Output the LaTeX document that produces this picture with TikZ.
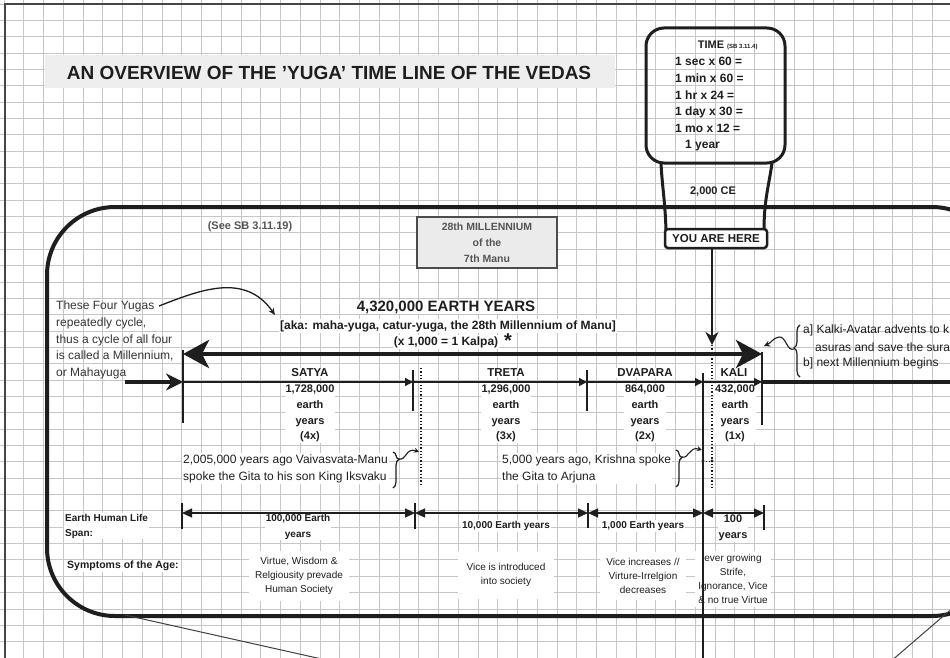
\documentclass[tikz,border=0pt]{standalone}
\usepackage{fontspec}
\setmainfont{Liberation Sans}
\usetikzlibrary{arrows.meta,decorations.pathreplacing}
\definecolor{ink}{HTML}{1E1E1E}
\definecolor{gridc}{HTML}{C6C6C6}
\definecolor{softink}{HTML}{555555}
\definecolor{boxfill}{HTML}{EBEBEB}
\definecolor{bandfill}{HTML}{EEEEEE}
\newcommand\fsz[2]{\fontsize{#1}{#2}\selectfont}
\begin{document}
\begin{tikzpicture}[x=1pt,y=-1pt,
  gridline/.style={gridc, line width=0.9pt},
  txt/.style={inner sep=1pt, text=ink},
  cell/.style={txt, fill=white, align=center},
  tickline/.style={ink, line width=1.8pt},
  segline/.style={ink, line width=1.3pt, -{Triangle[length=8pt,width=8pt]}},
  spanline/.style={ink, line width=1.2pt, {Triangle[length=10pt,width=9pt]}-{Triangle[length=10pt,width=9pt]}},
  bracepen/.style={ink, line width=1.2pt, decorate},
  squig/.style={ink, line width=1.1pt, -{Stealth[length=6pt,width=6pt]}}
]
\useasboundingbox (0,0) rectangle (950,658);
\clip (0,0) rectangle (950,658);
\fill[white] (0,0) rectangle (950,658);
% grid
\foreach \i in {0,...,48} \draw[gridline] ({4+19.75*\i},0) -- ({4+19.75*\i},658);
\foreach \j in {0,...,40} \draw[gridline] (0,{4+16.35*\j}) -- (950,{4+16.35*\j});
\draw[gray!55!black, line width=2pt] (5,700) -- (5,4) -- (960,4);

% title
\fill[bandfill] (45,55) rectangle (615,88);
\node[txt, font=\fsz{19}{23}\bfseries, anchor=base] (title) at (329,79.5) {AN OVERVIEW OF THE 'YUGA' TIME LINE OF THE VEDAS};

% big rounded frame and callout tails
\draw[ink, line width=4pt, rounded corners=68pt] (47,207) rectangle (1000,616);
\draw[ink!85, line width=1pt] (125,615) -- (335,662);
\draw[ink!85, line width=1pt] (890,662) -- (955,606);

% time box
\draw[ink, line width=3pt, rounded corners=18pt] (646,28) rectangle (785,163);
\draw[ink, line width=3pt] (661,163) .. controls (662,185) and (665,200) .. (666,230);
\draw[ink, line width=3pt] (772,163) .. controls (769,185) and (764,200) .. (764,230);
\node[txt, font=\fsz{11}{13}\bfseries] (timehd) at (711,45) {TIME};
\node[txt, font=\fsz{6}{7}\bfseries, anchor=west] (sbref) at (726,47) {(SB 3.11.4)};
\node[txt, anchor=west, align=left, font=\fsz{12}{16.6}\bfseries] (conv) at (674,104.5) {1 sec x 60 =\\1 min x 60 =\\1 hr x 24 =\\1 day x 30 =\\1 mo x 12 =\\\hspace*{10pt}1 year};
\node[txt, font=\fsz{11}{13}\bfseries] (ce) at (713,192) {2,000 CE};
\node[draw=ink, line width=2.5pt, rounded corners=3pt, fill=white, minimum width=102pt, minimum height=19pt, inner sep=0pt, text=ink, font=\fsz{11.5}{13}\bfseries] (yah) at (716,238.5) {YOU ARE HERE};

% header texts
\node[txt, text=softink, font=\fsz{11}{13}\bfseries] (seesb) at (250,227) {(See SB 3.11.19)};
\node[draw=gray!60!black, line width=1.6pt, fill=boxfill, minimum width=140pt, minimum height=51pt, align=center, text=softink, font=\fsz{10.5}{16}\bfseries] (mill) at (487,242.5) {28th MILLENNIUM\\of the\\7th Manu};
\node[cell, font=\fsz{15}{17}\bfseries] (total) at (446,307) {4,320,000 EARTH YEARS};
\node[cell, font=\fsz{12}{14}\bfseries] (aka) at (448,326) {[aka: maha-yuga, catur-yuga, the 28th Millennium of Manu]};
\node[cell, font=\fsz{12}{14}\bfseries] (kalpa) at (446,342) {(x 1,000 = 1 Kalpa)};
\node[txt, font=\fsz{20}{22}\bfseries] (star) at (508,341) {*};

% left note
\node[txt, anchor=west, align=left, text=ink!90, font=\fsz{12}{16.6}] (four) at (55,340) {These Four Yugas\\repeatedly cycle,\\thus a cycle of all four\\is called a Millennium,\\or Mahayuga};
\coordinate (yugaend) at (159,306);
\coordinate (yugatip) at (275,315);
\draw[ink, line width=1.3pt, -{Stealth[length=7pt,width=6pt]}] (yugaend) .. controls (200,290) and (245,272) .. (yugatip);

% right note (Kalki)
\node[txt, anchor=west, font=\fsz{12}{14}] (ka) at (802,330) {a] Kalki-Avatar advents to k};
\node[txt, anchor=west, font=\fsz{12}{14}] (kb) at (814,347) {asuras and save the sura};
\node[txt, anchor=west, font=\fsz{12}{14}] (kc) at (802,363) {b] next Millennium begins};
\draw[bracepen, decoration={brace, amplitude=6pt, aspect=0.56}] (800,377) -- (800,325);
\coordinate (kcusp) at (794,349);
\coordinate (ktip) at (764,346);
\draw[squig] (kcusp) .. controls (787,352) and (786,336) .. (779,337) .. controls (773,338) and (771,343) .. (ktip);

% yuga columns
\node[cell, font=\fsz{11.5}{13}\bfseries] (satya) at (310,373) {SATYA};
\node[cell, font=\fsz{11}{15.7}\bfseries] (satyav) at (310,413.5) {1,728,000\\earth\\years\\(4x)};
\node[cell, font=\fsz{11.5}{13}\bfseries] (treta) at (506,373) {TRETA};
\node[cell, font=\fsz{11}{15.7}\bfseries] (tretav) at (506,413.5) {1,296,000\\earth\\years\\(3x)};
\node[cell, font=\fsz{11.5}{13}\bfseries] (dvapara) at (645,373) {DVAPARA};
\node[cell, font=\fsz{11}{15.7}\bfseries] (dvaparav) at (645,413.5) {864,000\\earth\\years\\(2x)};
\node[cell, font=\fsz{11.5}{13}\bfseries] (kali) at (734,373) {KALI};
\node[cell, font=\fsz{11}{15.7}\bfseries] (kaliv) at (735,413.5) {432,000\\earth\\years\\(1x)};

% brace notes
\node[cell, anchor=west, align=left, font=\fsz{12}{17}] (manu) at (182,468.5) {2,005,000 years ago Vaivasvata-Manu\\spoke the Gita to his son King Iksvaku};
\draw[bracepen, decoration={brace, amplitude=6pt, aspect=0.2}] (393,452) -- (393,488);
\coordinate (b1) at (399,459);
\coordinate (b1t) at (419,452);
\draw[squig, -{Stealth[length=5pt,width=5pt]}] (b1) .. controls (406,461) and (406,447) .. (b1t);
\node[cell, anchor=west, align=left, font=\fsz{12}{17}] (krishna) at (501,468.5) {5,000 years ago, Krishna spoke\\the Gita to Arjuna};
\draw[bracepen, decoration={brace, amplitude=6pt, aspect=0.2}] (676,450) -- (676,487);
\coordinate (b2) at (682,457);
\coordinate (b2t) at (702,450);
\draw[squig, -{Stealth[length=5pt,width=5pt]}] (b2) .. controls (689,459) and (689,446) .. (b2t);

% life span and symptoms rows
\node[cell, anchor=west, align=left, font=\fsz{10}{15}\bfseries] (lifelab) at (64,526) {Earth Human Life\\Span:};
\node[cell, anchor=west, font=\fsz{10.5}{12}\bfseries] (symlab) at (66,566) {Symptoms of the Age:};
\node[cell, font=\fsz{10}{15.5}\bfseries] (ls1) at (298,527) {100,000 Earth\\years};
\node[cell, font=\fsz{10}{12}\bfseries] (ls2) at (506,526) {10,000 Earth years};
\node[cell, font=\fsz{10}{12}\bfseries] (ls3) at (643,526) {1,000 Earth years};
\node[cell, font=\fsz{11}{16}\bfseries] (ls4) at (733,528) {100\\years};
\node[cell, inner sep=6pt, font=\fsz{10}{14}] (sy1) at (299,576) {Virtue, Wisdom \&\\Relgiousity prevade\\Human Society};
\node[cell, inner xsep=9pt, inner ysep=12pt, font=\fsz{10}{14}] (sy2) at (506,575) {Vice is introduced\\into society};
\node[cell, inner sep=6pt, font=\fsz{10}{14}] (sy3) at (643,576) {Vice increases //\\Virture-Irrelgion\\decreases};
\node[cell, inner sep=3pt, font=\fsz{10}{14}] (sy4) at (733,579) {ever growing\\Strife,\\Ignorance, Vice\\\& no true Virtue};

% ---- timeline lines ----
\coordinate (mL) at (183,354);
\coordinate (mR) at (762,354);
\draw[ink, line width=4pt, {Stealth[length=26pt,width=28pt,inset=7pt]}-{Stealth[length=26pt,width=28pt,inset=7pt]}] (mL) -- (mR);

\coordinate (now) at (712,345);
\coordinate (nowb) at (712,490);
\draw[ink, line width=2.5pt, -{Stealth[length=13pt,width=13pt]}] (yah.south -| now) -- (now);
\draw[ink, line width=1.3pt, dotted] (now) -- (nowb);
\draw[ink, line width=1.3pt, dotted] (421,368) -- (421,485);

\coordinate (sin) at (125,382);
\coordinate (s0) at (183,382);
\coordinate (s1) at (413,382);
\coordinate (s2) at (587,382);
\coordinate (s3) at (703,382);
\coordinate (s4) at (762,382);
\coordinate (sout) at (955,382);
\draw[ink, line width=3.5pt, -{Stealth[length=17pt,width=17pt]}] (sin) -- (s0);
\draw[segline] (s0) -- (s1);
\draw[segline] (s1) -- (s2);
\draw[segline] (s2) -- (s3);
\draw[segline] (s3) -- (s4);
\draw[ink, line width=3.5pt] (s4) -- (sout);

\draw[tickline] (183,350) -- (183,423);
\draw[tickline] (413,370) -- (413,411);
\draw[tickline] (587,370) -- (587,411);
\draw[ink, line width=1.6pt] (703,373) -- (703,660);
\draw[tickline] (762,352) -- (762,425);

\coordinate (d1) at (703,461);
\coordinate (d2) at (712,461);
\draw[ink, line width=1pt, dotted] (d1) -- (d2);
\fill[ink] (d1) circle (1.7pt) (d2) circle (1.7pt);

\coordinate (l0) at (182,513);
\coordinate (l1) at (415,513);
\coordinate (l2) at (588,513);
\coordinate (l3) at (703,513);
\coordinate (l4) at (764,513);
\draw[spanline] (l0) -- (l1);
\draw[spanline] (l1) -- (l2);
\draw[spanline] (l2) -- (l3);
\draw[spanline] (l3) -- (l4);
\draw[tickline] (182,503) -- (182,529);
\draw[tickline] (415,503) -- (415,529);
\draw[tickline] (588,503) -- (588,528);
\draw[tickline] (764,505) -- (764,530);
\end{tikzpicture}
\end{document}
